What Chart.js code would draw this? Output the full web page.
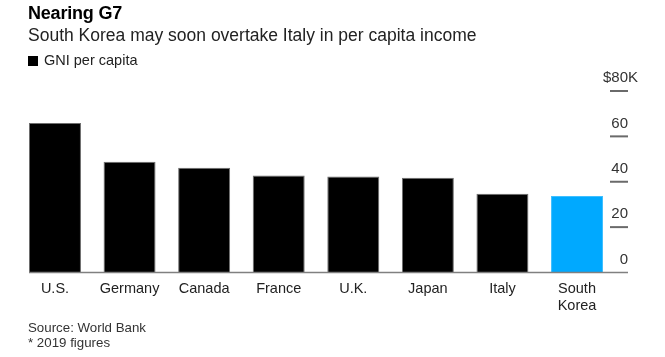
<!DOCTYPE html>
<html>
<head>
<meta charset="utf-8">
<script src="https://cdn.jsdelivr.net/npm/chart.js@4.4.1/dist/chart.umd.min.js"></script>
<style>
  html, body { margin: 0; padding: 0; background: #fff; }
  body { width: 665px; height: 357px; position: relative; overflow: hidden; font-family: "Liberation Sans", Arial, sans-serif; }
  #c { position: absolute; left: 0; top: 0; }
  .t { position: absolute; left: 28px; white-space: nowrap; }
  #title { top: 3px; font-size: 18px; line-height: 20px; font-weight: bold; color: #000; letter-spacing: -0.2px; }
  #subtitle { top: 25px; font-size: 17.5px; line-height: 20px; color: #222; }
  #legend { top: 52px; font-size: 14.5px; line-height: 16px; color: #222; }
  #legend .sw { display: inline-block; width: 10px; height: 10px; background: #000; margin-right: 6px; vertical-align: -1px; }
  #source { top: 320px; font-size: 13.3px; line-height: 15px; color: #333; }
</style>
</head>
<body>
<canvas id="c" width="665" height="357"></canvas>
<div class="t" id="title">Nearing G7</div>
<div class="t" id="subtitle">South Korea may soon overtake Italy in per capita income</div>
<div class="t" id="legend"><span class="sw"></span>GNI per capita</div>
<div class="t" id="source">Source: World Bank<br>* 2019 figures</div>
<script>
const categories = ['U.S.', 'Germany', 'Canada', 'France', 'U.K.', 'Japan', 'Italy', ['South', 'Korea']];
const gniValues = [65.9, 48.8, 46.2, 42.7, 42.3, 41.8, 34.7, 33.7];
const barColors = ['#000000', '#000000', '#000000', '#000000', '#000000', '#000000', '#000000', '#00a9ff'];
const yTickValues = [0, 20, 40, 60, 80];
const yTickLabels = ['0', '20', '40', '60', '$80K'];

const FONT = '"Liberation Sans", Arial, sans-serif';

const axisPlugin = {
  id: 'customAxis',
  afterDatasetsDraw(chart) {
    const ctx = chart.ctx;
    const y = chart.scales.y;
    const meta = chart.getDatasetMeta(0);
    const first = meta.data[0];
    const leftX = first.x - first.width / 2;
    const tickL = 610, tickR = 628;
    ctx.save();
    const y0 = y.getPixelForValue(0);
    ctx.strokeStyle = '#808080';
    ctx.lineWidth = 1.5;
    ctx.beginPath();
    ctx.moveTo(leftX, y0);
    ctx.lineTo(tickR, y0);
    ctx.stroke();
    ctx.font = '15px ' + FONT;
    ctx.fillStyle = '#333';
    ctx.textBaseline = 'middle';
    yTickValues.forEach((v, i) => {
      const py = y.getPixelForValue(v);
      if (v !== 0) {
        ctx.strokeStyle = '#6a6a6a';
        ctx.lineWidth = 2;
        ctx.beginPath();
        ctx.moveTo(tickL, py);
        ctx.lineTo(tickR, py);
        ctx.stroke();
      }
      const lab = yTickLabels[i];
      const m = lab.match(/^(.*?\d)(\D*)$/);
      const suffix = m ? m[2] : '';
      const main = m ? m[1] : lab;
      ctx.textAlign = 'right';
      ctx.fillText(main, tickR, py - 13);
      if (suffix) {
        ctx.textAlign = 'left';
        ctx.fillText(suffix, tickR, py - 13);
      }
    });
    ctx.restore();
  }
};

new Chart(document.getElementById('c'), {
  type: 'bar',
  data: {
    labels: categories,
    datasets: [{
      label: 'GNI per capita',
      data: gniValues,
      backgroundColor: barColors,
      borderColor: barColors.map(c => c === '#000000' ? '#6e6e6e' : '#3fbfff'),
      borderWidth: { top: 1, left: 1, right: 1, bottom: 0 },
      borderSkipped: 'bottom',
      barPercentage: 0.697,
      categoryPercentage: 1
    }]
  },
  options: {
    responsive: false,
    animation: false,
    devicePixelRatio: 1,
    layout: { padding: { left: 17.7, right: 50.7, top: 91, bottom: 42.5 } },
    plugins: { legend: { display: false }, tooltip: { enabled: false } },
    scales: {
      x: {
        grid: { display: false, drawTicks: false },
        border: { display: false },
        ticks: {
          padding: 7.5,
          color: '#222',
          font: { family: FONT, size: 14.5 },
          maxRotation: 0,
          autoSkip: false
        },
        afterFit(s) { s.height = 42; }
      },
      y: { display: false, min: 0, max: 80 }
    }
  },
  plugins: [axisPlugin]
});
</script>
</body>
</html>
